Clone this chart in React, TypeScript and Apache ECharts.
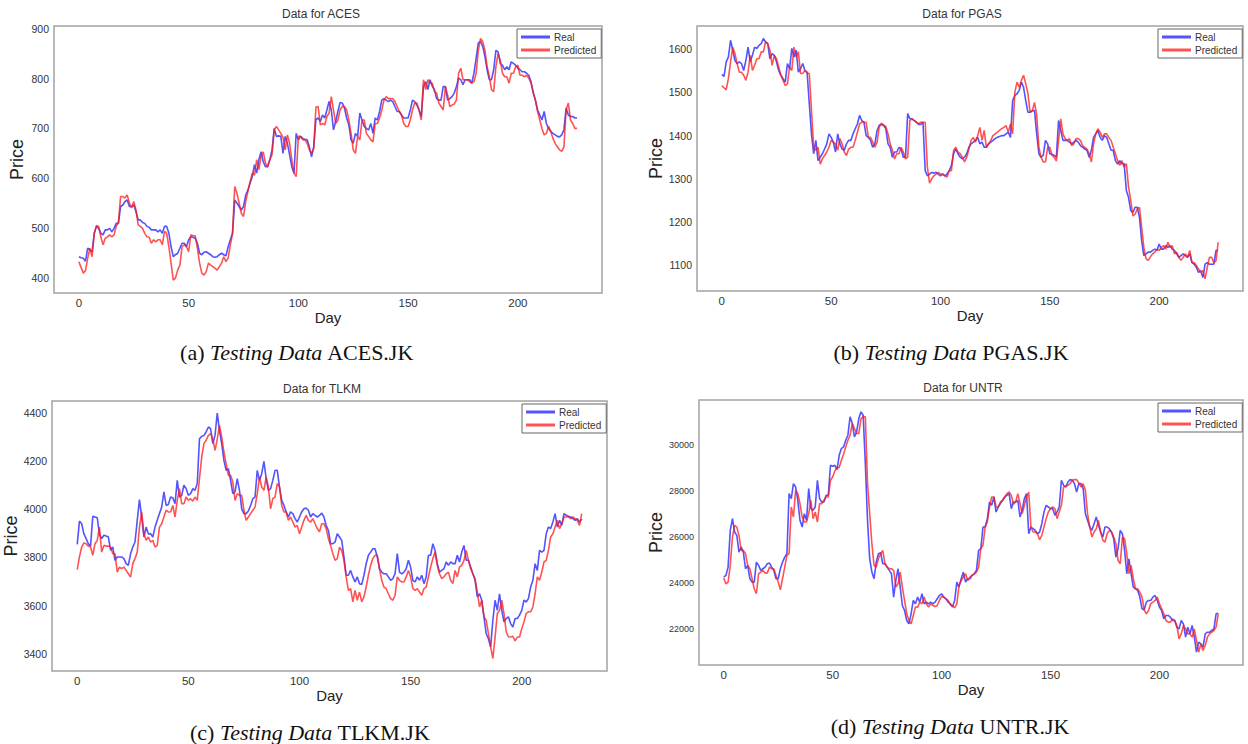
import React, { useEffect, useRef } from "react";
import * as echarts from "echarts";

// ---- Data, day index = array index ----
const acesReal = [442,440,439,433,459,456,452,489,503,499,489,486,496,496,499,492,499,509,509,543,546,553,556,543,543,546,533,516,516,511,509,503,501,496,496,496,492,496,489,503,503,489,462,442,446,449,459,469,469,462,476,482,481,479,469,449,446,451,452,449,446,442,441,442,446,449,446,444,462,476,489,556,550,543,536,543,566,576,590,603,627,610,637,653,633,623,623,637,657,700,684,685,684,650,684,670,647,623,610,690,677,684,680,678,677,663,643,663,718,721,714,727,721,737,754,737,697,714,734,752,751,741,721,707,677,670,690,684,731,717,704,700,697,710,690,721,717,734,757,760,757,754,757,754,744,734,734,727,721,721,721,737,757,754,747,737,724,784,794,778,798,785,778,760,757,757,784,784,757,760,764,771,784,801,798,788,798,798,798,791,811,841,872,875,865,845,818,798,798,818,857,854,831,827,818,824,818,834,831,827,821,818,814,814,811,807,794,771,757,737,727,717,734,710,700,694,690,687,684,683,687,697,741,727,724,724,721,721];
const acesPred = [432,420,409,414,439,459,442,489,505,503,482,466,479,482,486,482,486,503,511,563,563,560,566,550,540,553,536,506,503,499,489,482,481,469,476,472,476,476,466,493,489,462,429,395,399,415,425,462,466,462,452,486,484,484,459,429,409,405,412,429,425,422,419,415,422,429,442,432,439,466,489,583,570,550,529,523,553,573,593,610,606,637,617,644,653,630,623,637,647,697,704,697,690,682,657,687,670,637,610,603,684,684,677,677,670,657,650,660,743,744,707,710,707,724,731,764,737,710,717,737,744,744,737,717,690,657,650,684,677,717,717,690,684,677,673,710,710,721,737,757,764,760,760,760,754,744,734,727,710,704,704,717,737,751,751,737,717,798,778,798,791,791,774,771,751,744,737,784,767,744,747,749,757,811,821,798,798,798,794,791,794,811,857,881,875,857,824,804,778,774,824,851,837,811,804,804,791,811,811,824,827,807,807,804,807,801,791,774,757,734,717,700,687,690,704,694,680,670,663,657,654,663,737,751,717,710,700,700];

const pgasReal = [1542,1537,1571,1582,1621,1598,1574,1567,1571,1567,1551,1574,1605,1571,1586,1605,1602,1609,1613,1625,1617,1613,1578,1590,1586,1571,1551,1540,1532,1524,1567,1555,1602,1582,1598,1547,1555,1567,1551,1547,1474,1404,1358,1389,1342,1350,1358,1369,1381,1404,1396,1385,1362,1404,1381,1369,1366,1381,1389,1389,1404,1416,1427,1447,1435,1431,1400,1396,1389,1373,1381,1412,1424,1426,1424,1416,1381,1373,1350,1362,1362,1373,1369,1350,1350,1451,1439,1439,1435,1431,1426,1426,1431,1319,1307,1311,1315,1313,1315,1311,1307,1311,1307,1311,1319,1331,1358,1369,1358,1350,1346,1350,1358,1373,1381,1385,1389,1396,1381,1385,1373,1373,1381,1385,1389,1393,1396,1398,1400,1400,1404,1408,1396,1481,1493,1497,1505,1524,1512,1481,1454,1454,1458,1458,1404,1358,1350,1354,1389,1381,1358,1357,1354,1350,1435,1412,1389,1389,1389,1385,1381,1385,1389,1385,1377,1373,1369,1366,1350,1366,1396,1404,1412,1396,1389,1400,1396,1381,1366,1366,1342,1334,1342,1335,1335,1273,1257,1226,1222,1234,1234,1211,1156,1122,1126,1130,1130,1134,1137,1134,1149,1137,1137,1145,1141,1145,1137,1134,1126,1118,1122,1126,1122,1118,1126,1106,1102,1095,1083,1087,1071,1102,1106,1102,1102,1102,1134,1134];
const pgasPred = [1516,1511,1506,1532,1571,1605,1590,1567,1547,1547,1540,1528,1547,1586,1551,1563,1578,1578,1594,1594,1617,1613,1598,1563,1586,1578,1559,1540,1528,1516,1520,1559,1551,1605,1582,1594,1544,1544,1551,1545,1544,1458,1373,1366,1373,1334,1346,1354,1362,1373,1389,1385,1381,1366,1393,1381,1362,1354,1369,1373,1373,1389,1408,1427,1431,1431,1431,1396,1396,1385,1373,1385,1420,1429,1424,1421,1404,1381,1366,1346,1358,1358,1373,1362,1346,1350,1435,1439,1435,1431,1427,1431,1431,1431,1327,1290,1300,1307,1311,1315,1311,1311,1307,1304,1319,1319,1366,1373,1362,1358,1350,1339,1350,1369,1389,1396,1385,1400,1419,1389,1412,1373,1381,1389,1400,1404,1408,1412,1416,1419,1423,1408,1427,1404,1500,1524,1512,1528,1540,1520,1497,1454,1458,1477,1447,1373,1350,1339,1339,1373,1373,1354,1350,1341,1389,1439,1404,1393,1389,1393,1377,1381,1393,1393,1389,1377,1373,1369,1358,1339,1381,1404,1416,1408,1396,1404,1404,1396,1389,1373,1358,1342,1331,1342,1327,1335,1281,1250,1214,1218,1230,1234,1188,1141,1115,1111,1119,1126,1130,1137,1134,1141,1145,1137,1153,1141,1145,1126,1130,1118,1111,1118,1126,1118,1134,1106,1106,1099,1091,1083,1087,1068,1095,1118,1118,1106,1110,1153];

const tlkmReal = [3854,3951,3940,3898,3878,3857,3847,3971,3968,3965,3896,3878,3892,3889,3885,3830,3843,3788,3802,3802,3802,3795,3774,3767,3815,3843,3864,3954,4040,3968,3885,3926,3898,3898,3885,3926,3954,3982,4009,4072,4016,4020,4051,4048,4023,4120,4051,4058,4100,4086,4058,4065,4086,4079,4107,4293,4303,4307,4321,4342,4335,4273,4307,4400,4328,4273,4203,4162,4169,4120,4065,4072,4127,4079,4002,3982,3982,3993,4016,4044,4051,4162,4120,4148,4199,4127,4079,4086,4120,4162,4162,4093,4037,4016,3989,3968,3989,3982,3961,3947,3968,3989,4002,4005,3996,3968,3982,3975,3968,3975,3984,3968,3933,3912,3857,3857,3864,3898,3885,3871,3802,3726,3726,3746,3719,3698,3719,3691,3688,3726,3774,3809,3822,3836,3836,3802,3753,3739,3732,3732,3719,3705,3712,3732,3816,3739,3732,3739,3753,3788,3760,3705,3698,3719,3705,3726,3691,3719,3809,3809,3857,3829,3774,3739,3746,3753,3781,3767,3781,3774,3774,3809,3781,3822,3850,3788,3788,3760,3732,3705,3636,3649,3622,3553,3483,3462,3428,3539,3622,3580,3649,3580,3532,3546,3553,3525,3511,3546,3546,3560,3580,3622,3615,3629,3677,3705,3774,3746,3829,3822,3829,3898,3926,3920,3947,3982,3926,3954,3933,3982,3975,3971,3968,3961,3954,3961,3947,3960];
const tlkmPred = [3749,3802,3843,3860,3857,3847,3843,3809,3857,3871,3926,3822,3850,3847,3847,3843,3815,3815,3739,3760,3753,3760,3746,3732,3718,3774,3795,3822,3926,3989,3898,3871,3885,3864,3871,3843,3850,3926,3940,3968,3996,3989,3989,4016,3968,4037,4086,4023,4023,4051,4037,4044,4034,4051,4037,4127,4217,4273,4287,4307,4314,4293,4245,4293,4349,4300,4238,4189,4141,4141,4113,4037,4065,4058,4058,3996,3954,3968,3982,3996,4009,4065,4134,4092,4079,4134,4092,4002,4044,4051,4107,4093,4016,3989,3989,3954,3968,3947,3926,3933,3898,3926,3954,3975,3954,3947,3961,3940,3920,3906,3940,3940,3920,3878,3850,3815,3788,3795,3843,3829,3788,3719,3663,3670,3615,3663,3622,3656,3615,3636,3677,3726,3767,3795,3809,3809,3753,3705,3677,3670,3649,3629,3622,3643,3719,3705,3698,3698,3719,3746,3719,3670,3663,3670,3656,3643,3670,3677,3719,3760,3795,3822,3767,3732,3712,3719,3732,3739,3705,3691,3746,3719,3760,3767,3788,3829,3788,3753,3732,3712,3656,3594,3622,3553,3539,3483,3428,3380,3469,3567,3580,3622,3567,3491,3470,3469,3472,3453,3469,3469,3504,3532,3567,3574,3574,3594,3649,3719,3705,3739,3781,3788,3829,3885,3898,3926,3954,3920,3940,3968,3968,3968,3961,3968,3961,3954,3933,3982];

const untrReal = [24246,24319,24681,26275,26783,26203,26058,25333,25551,25333,24609,24754,24174,24029,24029,24898,24754,24536,24609,24681,24826,24855,24681,24536,24174,24174,24609,24898,25116,25261,27870,27652,28304,28159,27580,26710,26420,27000,26710,28087,27217,27145,27290,28449,27652,27507,27507,27797,27797,29101,29058,29101,28913,29536,29826,29899,30188,30406,31203,30913,30333,30551,31130,31420,31275,29174,26710,25043,24464,24174,24898,25261,25304,24826,24826,24681,24536,24391,23377,24101,24609,23812,23014,22797,22362,22217,22652,23232,23087,23377,23159,23522,23087,23159,23087,23159,23087,23159,23304,23449,23522,23377,23304,23159,23087,22942,23232,24029,23812,24174,24464,24029,24174,24174,24319,24391,24536,25406,25478,26420,26420,26783,27507,27362,27725,27072,27290,27435,27580,27725,27797,27870,27217,27507,27507,27580,26855,27145,27652,27870,26130,26420,26348,26275,26130,26203,26565,27072,27362,27290,27217,27217,26928,27072,27290,28449,28232,28159,28377,28478,28449,28304,27942,28304,28304,28087,27000,26710,26420,26275,26565,26855,26493,26203,25986,26420,26420,26348,26203,25913,25116,25478,26275,26130,25406,24391,25043,24391,23812,23739,23667,23377,22870,22826,23159,23232,23232,23377,23449,23232,22942,22797,22435,22580,22580,22507,22362,22362,22072,22000,22362,22217,21638,22072,21783,22145,21638,20986,21420,21348,21203,21783,21855,21855,21928,22000,22652,22681];
const untrPred = [24203,23957,24029,24754,25986,26493,26420,26058,25406,25406,25261,24754,24609,24174,23739,23522,24391,24464,24536,24420,24420,24681,24609,24609,24319,24029,23696,24174,24681,25188,25261,27290,26855,28014,27870,27435,26855,26638,26638,27000,27580,26783,27072,26638,27435,27435,27580,27725,27725,28449,28594,28855,29000,29000,29319,29580,29899,30188,30406,30913,30696,30478,30478,31130,31203,31203,28319,27000,25696,24754,24681,25043,25261,25406,24826,24681,24609,24609,24536,23812,23957,24464,23812,23232,22652,22362,22217,22580,22942,22942,23159,23087,23377,23087,22942,23087,23014,22970,23014,23232,23406,23377,23304,23232,23050,23014,22913,23087,23884,24101,24246,24391,24101,24246,24319,24391,24464,24681,25478,25623,26420,26638,27290,27725,27725,27290,27290,27507,27580,27725,27870,27942,27797,27406,27507,27870,27435,27000,27362,27725,27942,26420,26203,26203,26130,25870,26058,26420,26783,27072,27217,27290,27217,26783,27072,27362,28159,28180,28232,28304,28449,28478,28478,28333,28159,28304,28014,27000,26420,25986,26203,26348,26710,26203,25841,25768,26130,26275,26203,25986,25696,24971,24826,25986,25913,25261,24391,24754,24174,23739,23739,23594,23377,22826,22652,22797,23087,23159,23232,23377,23087,22870,22652,22362,22290,22290,22435,22362,22145,21565,21783,22145,22000,21783,21783,21638,22000,21493,20986,21348,21058,21275,21638,21783,21855,21928,22072,22652];

const xTicks = [0, 50, 100, 150, 200];
const acesTicks = [400, 500, 600, 700, 800, 900];
const pgasTicks = [1100, 1200, 1300, 1400, 1500, 1600];
const tlkmTicks = [3400, 3600, 3800, 4000, 4200, 4400];
const untrTicks = [22000, 24000, 26000, 28000, 30000];

const tickers = ["ACES", "PGAS", "TLKM", "UNTR"];
const captionLetters = ["a", "b", "c", "d"];
const seriesNames = ["Real", "Predicted"];

const panels = [
  { real: acesReal, pred: acesPred, ticks: acesTicks, yMin: 369, yMax: 906, grid: { left: 54, top: 26, width: 548, height: 267 }, titleX: 321, titleY: 8, capX: 297, capY: 341, yFont: 10.5 },
  { real: pgasReal, pred: pgasPred, ticks: pgasTicks, yMin: 1040, yMax: 1654, grid: { left: 697, top: 26, width: 546, height: 265 }, titleX: 962, titleY: 8, capX: 951, capY: 341, yFont: 10.5 },
  { real: tlkmReal, pred: tlkmPred, ticks: tlkmTicks, yMin: 3328, yMax: 4450, grid: { left: 52, top: 401, width: 555, height: 270 }, titleX: 322, titleY: 383, capX: 310, capY: 721, yFont: 10.5 },
  { real: untrReal, pred: untrPred, ticks: untrTicks, yMin: 20430, yMax: 31935, grid: { left: 699, top: 400, width: 544, height: 265 }, titleX: 963, titleY: 382, capX: 950, capY: 715, yFont: 9 },
];

const BLUE = "rgba(25,25,255,0.75)";
const RED = "rgba(255,25,25,0.75)";
const SANS = "'Liberation Sans', Arial, sans-serif";
const SERIF = "'Liberation Serif', 'Times New Roman', serif";

export default function App() {
  const ref = useRef<HTMLDivElement>(null);
  useEffect(() => {
    if (!ref.current) return;
    const chart = echarts.init(ref.current, undefined, { renderer: "svg" });

    const grids: any[] = [];
    const xAxes: any[] = [];
    const yAxes: any[] = [];
    const series: any[] = [];
    const titles: any[] = [];
    const legends: any[] = [];

    panels.forEach((p, i) => {
      grids.push({ ...p.grid, show: true, borderColor: "#a3a3a3", borderWidth: 1.5, backgroundColor: "#fff" });
      xAxes.push({
        type: "value", gridIndex: i, min: -11.35, max: 238.35,
        name: "Day", nameLocation: "middle", nameGap: 12,
        nameTextStyle: { fontFamily: SANS, fontSize: 15, color: "#222", verticalAlign: "top" },
        axisLine: { show: false }, axisTick: { show: false, customValues: xTicks }, splitLine: { show: false },
        axisLabel: { customValues: xTicks, fontFamily: SANS, fontSize: 11.5, color: "#333", margin: 4, formatter: (v: number) => String(v) },
      });
      yAxes.push({
        type: "value", gridIndex: i, min: p.yMin, max: p.yMax,
        name: "Price", nameLocation: "middle", nameGap: 28,
        nameTextStyle: { fontFamily: SANS, fontSize: 18, color: "#222" },
        axisLine: { show: false }, axisTick: { show: false, customValues: p.ticks }, splitLine: { show: false },
        axisLabel: { customValues: p.ticks, fontFamily: SANS, fontSize: p.yFont, color: "#333", margin: 5, formatter: (v: number) => String(v) },
      });
      series.push({
        name: seriesNames[0], type: "line", xAxisIndex: i, yAxisIndex: i, symbol: "none",
        data: p.real.map((v, d) => [d, v]), lineStyle: { color: BLUE, width: 1.6 }, itemStyle: { color: BLUE },
      });
      series.push({
        name: seriesNames[1], type: "line", xAxisIndex: i, yAxisIndex: i, symbol: "none",
        data: p.pred.map((v, d) => [d, v]), lineStyle: { color: RED, width: 1.6 }, itemStyle: { color: RED },
      });
      titles.push({
        text: "Data for " + tickers[i], left: p.titleX, top: p.titleY, textAlign: "center", padding: 0,
        textStyle: { fontFamily: SANS, fontSize: 12, fontWeight: "normal", color: "#333" },
      });
      titles.push({
        text: "{n|(" + captionLetters[i] + ") }{i|Testing Data}{n| " + tickers[i] + ".JK}",
        left: p.capX, top: p.capY, textAlign: "center", padding: 0,
        textStyle: {
          fontWeight: "normal",
          rich: {
            n: { fontFamily: SERIF, fontSize: 22, lineHeight: 22, fontWeight: "normal", color: "#111" },
            i: { fontFamily: SERIF, fontSize: 22, lineHeight: 22, fontWeight: "normal", fontStyle: "italic", color: "#111" },
          },
        },
      });
      const gRight = p.grid.left + p.grid.width;
      legends.push({
        data: seriesNames, orient: "vertical",
        left: gRight - 85, top: p.grid.top + 3,
        backgroundColor: "#fff", borderColor: "#666", borderWidth: 1, borderRadius: 0,
        padding: [3, 5, 3, 4], itemGap: 3, itemWidth: 29, itemHeight: 3, icon: "rect",
        textStyle: { fontFamily: SANS, fontSize: 10, color: "#333", padding: [0, 0, 0, -1] },
      });
    });

    chart.setOption({
      animation: false,
      backgroundColor: "#fff",
      title: titles,
      legend: legends,
      grid: grids,
      xAxis: xAxes,
      yAxis: yAxes,
      series,
    });
    return () => chart.dispose();
  }, []);

  return <div ref={ref} style={{ position: "absolute", left: 0, top: 0, width: 1248, height: 744 }} />;
}
